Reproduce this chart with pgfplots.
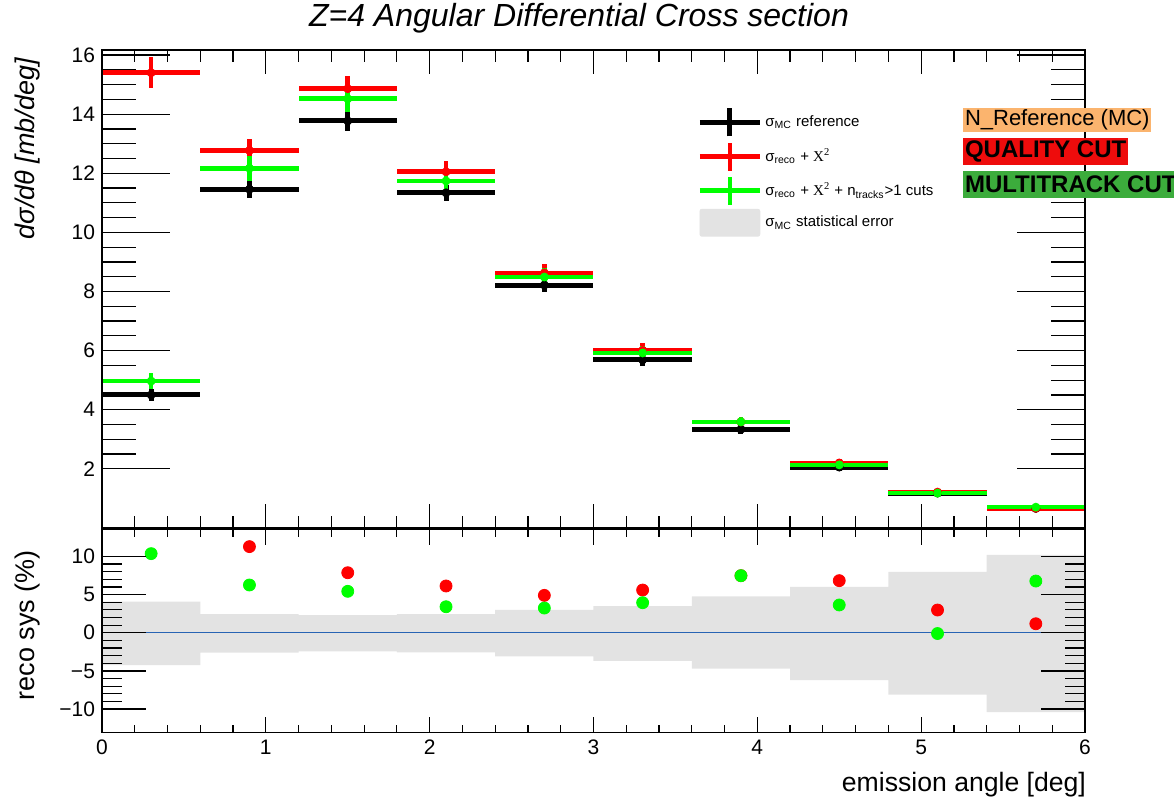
\documentclass[border=0pt]{standalone}
\usepackage{pgfplots}
\pgfplotsset{compat=1.18}
\usepackage{pgfplotstable}
\usepgfplotslibrary{fillbetween}
\usepackage{fontspec}
\setmainfont{Liberation Sans}
\newfontfamily\serifX{Liberation Serif}
\definecolor{rred}{RGB}{255,0,0}
\definecolor{rgreen}{RGB}{0,255,0}
\definecolor{band}{RGB}{227,227,227}
\definecolor{bline}{RGB}{40,100,180}
\definecolor{peach}{RGB}{251,180,110}
\definecolor{boxred}{RGB}{238,12,12}
\definecolor{boxgreen}{RGB}{60,172,60}

% top panel: x, half bin width, values and errors
\pgfplotstableread{
x   xe  black be   red   re   green ge
0.3 0.3 4.50  0.19 15.40 0.52 4.97  0.28
0.9 0.3 11.46 0.29 12.77 0.39 12.17 0.42
1.5 0.3 13.77 0.33 14.86 0.44 14.52 0.44
2.1 0.3 11.34 0.28 12.05 0.37 11.74 0.37
2.7 0.3 8.22  0.25 8.63  0.30 8.49  0.30
3.3 0.3 5.69  0.20 6.01  0.25 5.92  0.25
3.9 0.3 3.34  0.16 3.59  0.18 3.59  0.18
4.5 0.3 2.06  0.13 2.20  0.15 2.135 0.15
5.1 0.3 1.18  0.09 1.215 0.10 1.18  0.10
5.7 0.3 0.66  0.07 0.668 0.08 0.705 0.08
}\xs

% bottom panel: relative differences in percent
\pgfplotstableread{
x   red   green
0.3 nan   10.37
0.9 11.29 6.26
1.5 7.87  5.43
2.1 6.13  3.41
2.7 4.90  3.24
3.3 5.60  3.94
3.9 7.48  7.48
4.5 6.83  3.64
5.1 2.98  -0.10
5.7 1.18  6.78
}\rs

\pgfplotsset{
  common/.style={
    anchor=south west, scale only axis, width=491.5pt,
    xmin=0, xmax=6, tick align=inside,
    axis line style={line width=0.75pt},
    every tick/.style={line width=0.6pt, black},
    /pgf/number format/assume math mode=true,
    ticklabel style={font=\fontsize{10.5}{12}\selectfont},
  },
}

\begin{document}
\begin{tikzpicture}

% ---------- top panel ----------
\begin{axis}[common,
  at={(51pt,135.5pt)}, height=239pt,
  ymin=0, ymax=16.17,
  xtick=\empty,
  ytick={2,4,...,16}, minor y tick num=3,
  major tick length=34pt, minor tick length=17pt,
  legend cell align=left,
  legend style={at={(0.6053,0.884)}, anchor=north west, draw=none, fill=none,
    inner xsep=0pt, inner ysep=0pt, row sep=1pt,
    font=\fontsize{7.5}{9}\selectfont, nodes={inner sep=1.5pt}},
]
\addplot[black, only marks, mark=none,
  legend image code/.code={\draw[black, line width=2.5pt] (0pt,0pt)--(30pt,0pt);
     \draw[black, line width=2.5pt] (15pt,-7pt)--(15pt,7pt);},
  error bars/.cd, x dir=both, x explicit, y dir=both, y explicit, error mark=none,
  error bar style={line width=2.5pt, black}]
  table[x=x, y=black, x error=xe, y error=be]{\xs};
\addlegendentry{σ\textsubscript{MC} reference}
\addplot[rred, only marks, mark=none,
  legend image code/.code={\draw[rred, line width=2.5pt] (0pt,0pt)--(30pt,0pt);
     \draw[rred, line width=2pt] (15pt,-7pt)--(15pt,7pt);},
  error bars/.cd, x dir=both, x explicit, y dir=both, y explicit, error mark=none,
  error bar style={line width=2.3pt, rred}]
  table[x=x, y=red, x error=xe, y error=re]{\xs};
\addlegendentry{σ\textsubscript{reco} + {\serifX X\textsuperscript{2}}}
\addplot[rgreen, only marks, mark=none,
  legend image code/.code={\draw[rgreen, line width=2.5pt] (0pt,0pt)--(30pt,0pt);
     \draw[rgreen, line width=2pt] (15pt,-7pt)--(15pt,7pt);},
  error bars/.cd, x dir=both, x explicit, y dir=both, y explicit, error mark=none,
  error bar style={line width=2.3pt, rgreen}]
  table[x=x, y=green, x error=xe, y error=ge]{\xs};
\addlegendentry{σ\textsubscript{reco} + {\serifX X\textsuperscript{2}} + n\textsubscript{tracks}>1 cuts}
\addlegendimage{legend image code/.code={\fill[band, rounded corners=1pt] (0pt,-6.75pt) rectangle (30pt,6.75pt);}}
\addlegendentry{σ\textsubscript{MC} statistical error}
\end{axis}
% x ticks of the top panel (shorter)
\begin{axis}[common,
  at={(51pt,135.5pt)}, height=239pt,
  ymin=0, ymax=16.17, ytick=\empty,
  xtick={0,1,...,6}, xticklabels={}, minor x tick num=4,
  major tick length=12pt, minor tick length=6pt,
]
\end{axis}

% ---------- bottom panel ----------
\begin{axis}[common,
  at={(51pt,33.15pt)}, height=101.85pt,
  ymin=-13.1, ymax=13.6,
  xtick=\empty,
  ytick={-10,-5,0,5,10}, yticklabels={−10,−5,0,5,10}, minor y tick num=4,
  major tick length=22pt, minor tick length=10pt,
  axis on top,
]
\addplot[name path=up, draw=none, const plot] coordinates {
  (0,4.07) (0.6,2.45) (1.2,2.32) (1.8,2.45) (2.4,3.0) (3.0,3.5)
  (3.6,4.77) (4.2,6.0) (4.8,7.97) (5.4,10.2) (6.0,10.2)};
\addplot[name path=lo, draw=none, const plot] coordinates {
  (0,-4.24) (0.6,-2.62) (1.2,-2.45) (1.8,-2.58) (2.4,-3.1) (3.0,-3.67)
  (3.6,-4.7) (4.2,-6.2) (4.8,-8.1) (5.4,-10.4) (6.0,-10.4)};
\addplot[band, draw=none] fill between[of=up and lo];
\addplot[bline, line width=0.6pt] coordinates {(0,0) (6,0)};
\addplot[only marks, mark=*, mark size=3pt, mark options={draw=rred, fill=rred}]
  table[x=x, y=red]{\rs};
\addplot[only marks, mark=*, mark size=3pt, mark options={draw=rgreen, fill=rgreen}]
  table[x=x, y=green]{\rs};
\end{axis}
% x ticks of the bottom panel
\begin{axis}[common,
  at={(51pt,33.15pt)}, height=101.85pt,
  ymin=-13.1, ymax=13.6, ytick=\empty,
  xtick={0,1,...,6}, minor x tick num=4,
  major tick length=8pt, minor tick length=4pt,
]
\end{axis}

% titles
\node[font=\itshape\fontsize{16}{19}\selectfont] at (289.5pt,390.5pt)
  {Z=4 Angular Differential Cross section};
\node[rotate=90, anchor=east, font=\itshape\fontsize{13.5}{16}\selectfont] at (14pt,374pt)
  {dσ/dθ [mb/deg]};
\node[rotate=90, font=\fontsize{13.5}{16}\selectfont] at (14pt,87pt) {reco sys (\%)};
\node[anchor=east, font=\fontsize{13.3}{16}\selectfont] at (546.5pt,7pt) {emission angle [deg]};

% coloured text boxes
\node[anchor=west, fill=peach, inner xsep=0.8pt, inner ysep=0pt, minimum height=12.2pt,
  font=\fontsize{11}{13}\selectfont] at (481.5pt,339.5pt) {N\_Reference (MC)};
\node[anchor=west, fill=boxred, inner xsep=0.8pt, inner ysep=0pt, minimum height=13.5pt,
  font=\bfseries\fontsize{12}{14}\selectfont] at (481.5pt,323.8pt) {QUALITY CUT};
\node[anchor=west, fill=boxgreen, inner xsep=0.8pt, inner ysep=0pt, minimum height=13.5pt,
  font=\bfseries\fontsize{12}{14}\selectfont] at (481.5pt,307.4pt) {MULTITRACK CUT};

\pgfresetboundingbox
\useasboundingbox (0,0) rectangle (587pt,399.5pt);
\end{tikzpicture}
\end{document}
